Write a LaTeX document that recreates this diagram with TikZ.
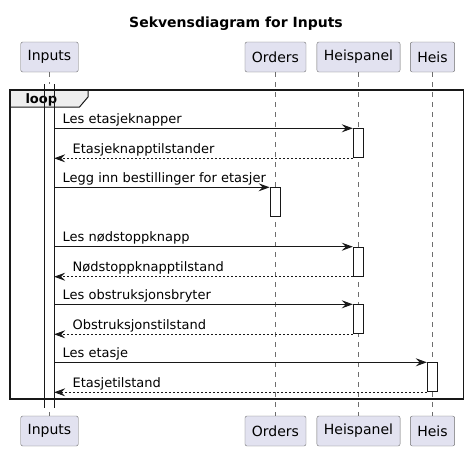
\documentclass[tikz,border=0pt]{standalone}
\usepackage{fontspec}
\setmainfont{DejaVu Sans}
\usetikzlibrary{arrows.meta}
\definecolor{myparticipant}{RGB}{226,226,240}
\definecolor{myborder}{RGB}{24,24,24}
\definecolor{mylifeline}{RGB}{110,110,110}
\definecolor{mytab}{RGB}{238,238,238}
\newcommand{\heightact}{29pt}
\newcommand{\widthact}{10.4pt}
\tikzset{
    participant/.style={draw=mylifeline, fill=myparticipant, rounded corners=2pt, minimum height=30pt, inner xsep=7pt, font=\fontsize{14}{16}\selectfont},
    lifeline/.style={draw=mylifeline, line width=0.8pt, dash pattern=on 5pt off 5pt},
    act/.style={draw=myborder, fill=white, line width=1pt, anchor=north, minimum width=\widthact, minimum height=\heightact, inner sep=0pt},
    call/.style={draw=myborder, line width=1pt, -{Stealth[length=11pt, width=8pt, inset=4pt]}},
    reply/.style={call, line width=0.8pt, dash pattern=on 2pt off 2pt},
    msgtext/.style={anchor=base west, inner sep=0pt, yshift=5pt, font=\fontsize{13}{15}\selectfont},
    msg/.style={msgtext, pos=0, xshift=8pt},
    replymsg/.style={msgtext, pos=1, xshift=18pt}
}

\begin{document}
\begin{tikzpicture}[x=1pt, y=-1pt]
    \useasboundingbox (0,0) rectangle (469,451);
    \node[anchor=base, font=\bfseries\fontsize{14}{16}\selectfont] (title) at (236,27) {Sekvensdiagram for Inputs};

    % participants, top and bottom
    \foreach \name/\lbl/\xpos in {inputs/Inputs/49.5, orders/Orders/275.5, panel/Heispanel/358.5, heis/Heis/432.5} {
        \node[participant] (\name-top) at (\xpos,57) {\lbl};
        \node[participant] (\name-bot) at (\xpos,431) {\lbl};
        \draw[lifeline] (\name-top) -- (\name-bot);
    }

    % activation of Inputs over the whole loop
    \node[fill=white, minimum width=9.7pt, minimum height=324pt, inner sep=0pt, anchor=north] (inbar) at (49.15,84) {};

    % loop frame
    \coordinate (loop-nw) at (10,90);
    \coordinate (loop-se) at (463.5,399);
    \fill[mytab] (loop-nw) -- (88,90) -- (88,97) -- (79.5,107) -- (10,107) -- cycle;
    \draw[myborder, line width=1pt] (88,90) -- (88,97) -- (79.5,107) -- (10,107);
    \draw[myborder, line width=1.5pt] (loop-nw) rectangle (loop-se);
    \node[anchor=base west, inner sep=0pt, font=\bfseries\fontsize{13}{15}\selectfont] (loop) at (25.3,103.5) {loop};

    \draw[myborder, line width=1pt] (inbar.north west) -- (inbar.south west) (inbar.north east) -- (inbar.south east);

    % activations
    \node[act] (act1) at (358.5,128.3) {};
    \node[act] (act2) at (275.3,187.3) {};
    \node[act] (act3) at (358.5,246.7) {};
    \node[act] (act4) at (358.5,304.3) {};
    \node[act] (act5) at (432.5,362.3) {};

    % messages
    \draw[call] (inbar.east |- act1.north) -- node[msg] {Les etasjeknapper} (act1.north west);
    \draw[reply] (act1.south west) -- node[replymsg] {Etasjeknapptilstander} (inbar.east |- act1.south);
    \draw[call] (inbar.east |- act2.north) -- node[msg] {Legg inn bestillinger for etasjer} (act2.north west);
    \draw[call] (inbar.east |- act3.north) -- node[msg] {Les nødstoppknapp} (act3.north west);
    \draw[reply] (act3.south west) -- node[replymsg] {Nødstoppknapptilstand} (inbar.east |- act3.south);
    \draw[call] (inbar.east |- act4.north) -- node[msg] {Les obstruksjonsbryter} (act4.north west);
    \draw[reply] (act4.south west) -- node[replymsg] {Obstruksjonstilstand} (inbar.east |- act4.south);
    \draw[call] (inbar.east |- act5.north) -- node[msg] {Les etasje} (act5.north west);
    \draw[reply] (act5.south west) -- node[replymsg] {Etasjetilstand} (inbar.east |- act5.south);
\end{tikzpicture}
\end{document}
